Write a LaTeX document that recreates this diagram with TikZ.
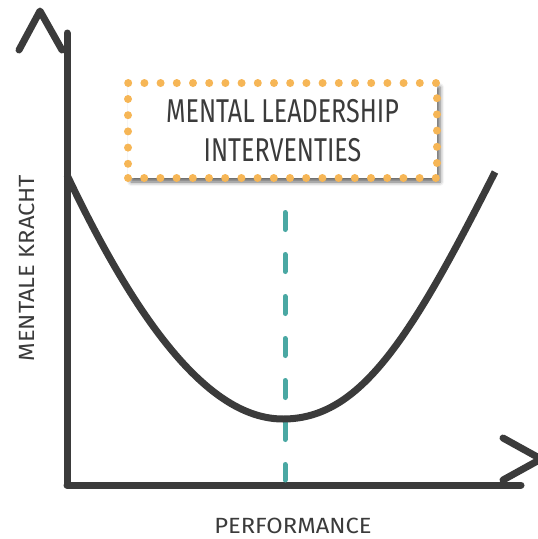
\documentclass[tikz,border=0pt]{standalone}
\usepackage{fontspec}
\setmainfont{Fira Sans}
\newfontfamily\sketchfont[FakeStretch=0.76]{Fira Sans}
\newfontfamily\labelfont[FakeStretch=1.08]{Fira Sans}
\usetikzlibrary{shadows,shadows.blur}
\definecolor{inkgray}{HTML}{3B3B3B}
\definecolor{tealdash}{HTML}{4AA8A3}
\definecolor{dotorange}{HTML}{F6B656}

\begin{document}
\begin{tikzpicture}
  [x=1pt,y=-1pt,
   axisL/.style={draw=inkgray,line width=7pt,line cap=round,line join=round},
   labelN/.style={text=inkgray,font=\labelfont\fontsize{22}{26}\selectfont},
   boxN/.style={draw=dotorange,line width=8pt,line cap=round,
     dash pattern=on 0pt off 16.2pt,fill=white,
     minimum width=309pt,minimum height=95pt,align=center,text=inkgray,
     font=\sketchfont\fontsize{33}{39}\selectfont,
     blur shadow={shadow xshift=3pt,shadow yshift=-4pt,
       shadow blur radius=4pt,shadow opacity=60}}]

  \useasboundingbox (0,0) rectangle (538,539);

  \coordinate (o)  at (67,485);
  \coordinate (yt) at (67,33);
  \coordinate (xr) at (521,485);

  % axes
  \draw[axisL] (o) -- (yt);
  \draw[axisL] (o) -- (xr);
  \draw[axisL] (19,50) -- (40,11) -- (62,50);
  \draw[axisL] (503,438) -- (541,459) -- (503,480);

  % labels
  \node[labelN] (perf) at (293,526) {PERFORMANCE};
  \node[labelN,rotate=90] (kracht) at (27,268) {MENTALE KRACHT};

  % dashed line
  \coordinate (dtop) at (285,212.5);
  \coordinate (dbot) at (285,480);
  \draw[tealdash,line width=5pt,line cap=round,dash pattern=on 17pt off 25pt]
    (dtop) -- (dbot);

  % curve
  \draw[axisL,line cap=butt] (67,175) .. controls (150,350) and (220,419) .. (283,419)
                       .. controls (360,419) and (410,340) .. (495,172);

  \node[boxN] (box) at (282.5,130.5) {MENTAL LEADERSHIP\\INTERVENTIES};
\end{tikzpicture}
\end{document}
